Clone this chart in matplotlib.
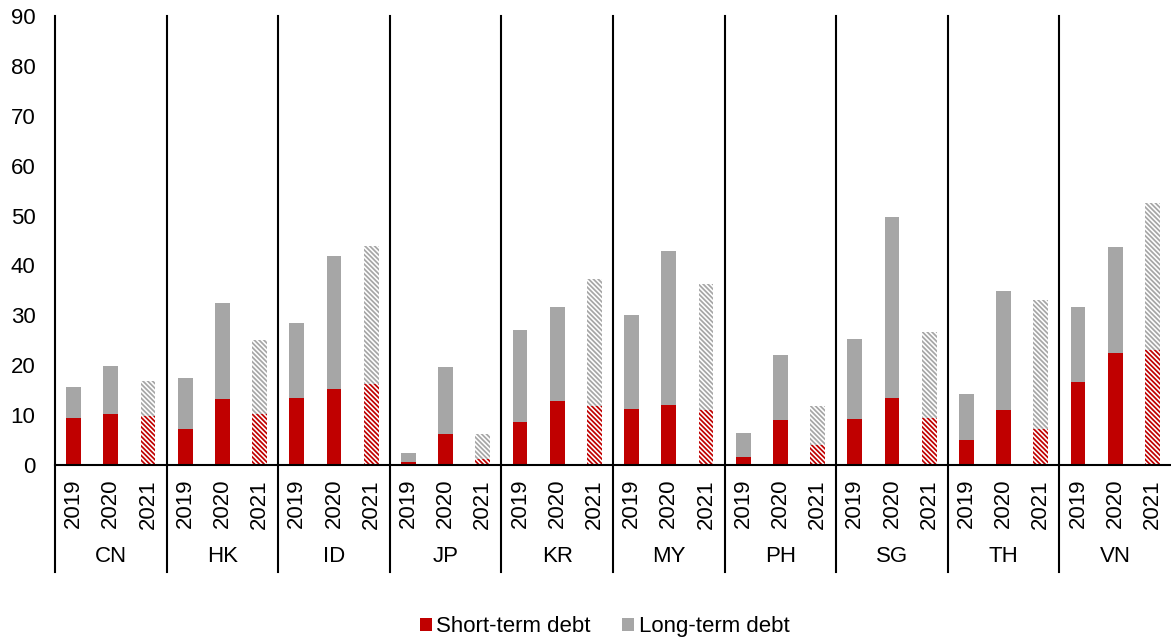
import matplotlib
matplotlib.use('Agg')
import matplotlib.pyplot as plt
import matplotlib.transforms as mtransforms
from matplotlib.patches import Patch
import numpy as np

plt.rcParams['font.family'] = ['Liberation Sans', 'DejaVu Sans']
plt.rcParams['hatch.linewidth'] = 1.25

countries = ['CN', 'HK', 'ID', 'JP', 'KR', 'MY', 'PH', 'SG', 'TH', 'VN']
years = ['2019', '2020', '2021']

# short-term debt, per country: 2019, 2020, 2021
short_term = [
    [9.5, 10.3, 9.8],
    [7.3, 13.3, 10.3],
    [13.5, 15.3, 16.3],
    [0.7, 6.3, 1.3],
    [8.7, 12.9, 11.8],
    [11.2, 12.0, 11.0],
    [1.7, 9.1, 4.1],
    [9.3, 13.5, 9.4],
    [5.1, 11.0, 7.3],
    [16.6, 22.4, 23.0],
]
# long-term debt, stacked on top
long_term = [
    [6.2, 9.6, 7.0],
    [10.1, 19.2, 14.8],
    [15.0, 26.5, 27.5],
    [1.8, 13.4, 5.0],
    [18.4, 18.8, 25.4],
    [18.9, 30.8, 25.2],
    [4.8, 12.9, 7.7],
    [16.0, 36.3, 17.3],
    [9.1, 23.8, 25.7],
    [15.0, 21.2, 29.6],
]

red = '#C00000'
grey = '#A6A6A6'
fs = 16

fig = plt.figure(figsize=(11.71, 6.40), dpi=100)
ax = fig.add_axes([55/1171, 175/640, 1116/1171, 449/640])

width = 0.4
hatch = '\\' * 7
for g, c in enumerate(countries):
    for k, yr in enumerate(years):
        x = g * 3 + k
        s = short_term[g][k]
        l = long_term[g][k]
        if yr == '2021':
            ax.bar(x, s, width, facecolor='white', edgecolor=red, hatch=hatch, linewidth=0)
            ax.bar(x, l, width, bottom=s, facecolor='white', edgecolor=grey, hatch=hatch, linewidth=0)
        else:
            ax.bar(x, s, width, color=red, linewidth=0)
            ax.bar(x, l, width, bottom=s, color=grey, linewidth=0)

ax.set_xlim(-0.5, len(countries) * 3 - 0.5)
ax.set_ylim(0, 90)
ax.set_yticks(np.arange(0, 91, 10))
ax.tick_params(axis='y', length=0, pad=14, labelsize=fs)
ax.set_xticks([])

for sp in ['top', 'right', 'left']:
    ax.spines[sp].set_visible(False)
ax.spines['bottom'].set_linewidth(1.5)

trans = mtransforms.blended_transform_factory(ax.transData, ax.transAxes)
bottom_y = (465 - 572) / 449
for g in range(len(countries)):
    xs = g * 3 - 0.5
    ax.plot([xs, xs], [1.0, bottom_y], color='black', lw=1.5, transform=trans, clip_on=False)
    for k, yr in enumerate(years):
        ax.text(g * 3 + k, -14 / 449, yr, rotation=90, ha='center', va='top',
                fontsize=fs, transform=trans)
    ax.text(g * 3 + 1, -92 / 449, countries[g], ha='center', va='center',
            fontsize=fs, transform=trans)

handles = [Patch(facecolor=red, label='Short-term debt'),
           Patch(facecolor=grey, label='Long-term debt')]
fig.legend(handles=handles, loc='center', bbox_to_anchor=(604.5 / 1171, 0.021), ncol=2,
           frameon=False, fontsize=fs, handlelength=0.55, handleheight=0.55,
           handletextpad=0.2, columnspacing=1.4)

fig.savefig('out.png', dpi=100)
